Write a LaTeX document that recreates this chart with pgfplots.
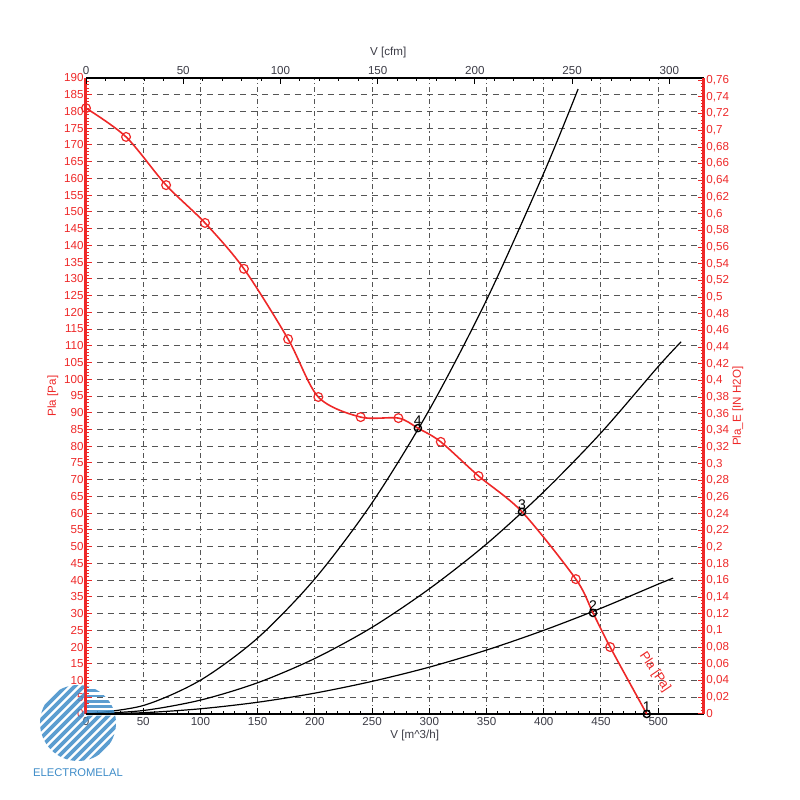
\documentclass[border=0pt]{standalone}
\usepackage{pgfplots}
\pgfplotsset{compat=1.18}
\usepackage{fontspec}
\setmainfont{Liberation Sans}
\definecolor{pred}{RGB}{238,40,40}
\definecolor{logoblue}{RGB}{62,140,200}
\definecolor{gridgray}{RGB}{85,85,85}
\definecolor{labgray}{RGB}{60,60,70}
\begin{document}
\begin{tikzpicture}[font=\fontsize{5.8}{7}\selectfont]
\pgfplotsset{
  common/.style={
    scale only axis, width=309pt, height=318pt,
    /pgf/number format/assume math mode=true,
    clip=false,
    major tick length=3pt, minor tick length=1.6pt,
  }
}
\begin{axis}[common,
  xmin=0, xmax=540, ymin=0, ymax=190,
  axis x line*=bottom, axis y line*=left,
  xtick={0,50,...,500}, minor x tick num=4,
  ytick={0,5,...,190}, minor y tick num=4,
  xmajorgrids, ymajorgrids,
  major x grid style={gridgray, line width=0.5pt, dash pattern=on 2.5pt off 1.5pt on 0.6pt off 1.5pt},
  major y grid style={gridgray, line width=0.5pt, dash pattern=on 3pt off 2.5pt},
  x axis line style={black, line width=1pt},
  y axis line style={pred, line width=1.5pt},
  x tick style={black, line width=0.5pt},
  y tick style={pred, line width=0.5pt},
  xticklabel style={labgray, inner sep=1.5pt},
  yticklabel style={pred, inner sep=1pt},
  xlabel={V [m\textasciicircum3/h]},
  xlabel style={at={(axis description cs:0.532,0)}, yshift=-10.5pt, anchor=center, labgray},
  ylabel={Pla [Pa]},
  ylabel style={at={(axis description cs:0,0.5)}, yshift=16.5pt, anchor=center, pred},
]
% system curves
\addplot[black, line width=0.6pt, smooth] coordinates {
 (0,0) (50,2.53) (100,10.1) (150,22.7) (200,40.4) (250,63.1) (300,90.9) (350,123.7) (400,161.6) (430,186.7)};
\addplot[black, line width=0.6pt, smooth] coordinates {
 (0,0) (50,1.04) (100,4.15) (150,9.34) (200,16.6) (250,25.9) (300,37.4) (350,50.8) (400,66.4) (450,84.0) (500,103.8) (520,111.2)};
\addplot[black, line width=0.6pt, smooth] coordinates {
 (0,0) (50,0.39) (100,1.56) (150,3.51) (200,6.24) (250,9.75) (300,14.0) (350,19.1) (400,25.0) (450,31.6) (500,38.8) (513,40.6)};
% fan curve
\addplot[pred, line width=0.8pt, smooth, tension=0.5, mark=o, mark size=2.2pt,
  mark options={solid, line width=0.6pt}, mark indices={1,2,3,4,5,6,7,8,9,11,12,14,16}] coordinates {
 (0,181) (35,172.4) (70,158) (104,146.7) (138,133) (176.6,112) (203,94.7) (240,88.7) (273,88.4)
 (290,85.4) (310,81.3) (343,71.1) (381,60.4) (428,40.3) (443,30.2) (458,20) (490,0)};
% operating points
\addplot[only marks, mark=o, mark size=1.8pt, black, mark options={line width=0.7pt},
  nodes near coords, point meta=explicit symbolic,
  every node near coord/.append style={font=\fontsize{7}{8}\selectfont, anchor=south, inner sep=0.8pt, black}]
 coordinates {(290,85.4)[4] (381,60.4)[3] (443,30.2)[2] (490,0)[1]};
\node[pred, rotate=-56, font=\fontsize{6.5}{7}\selectfont, inner sep=0pt] at (axis cs:497,12.5) {Pla [Pa]};
\end{axis}
\begin{axis}[common,
  xmin=0, xmax=317.8, ymin=0, ymax=0.76278,
  axis x line*=top, axis y line*=right,
  xtick={0,50,...,300}, minor x tick num=4,
  ytick distance=0.02, minor y tick num=4,
  x axis line style={black, line width=1pt},
  y axis line style={pred, line width=1.5pt},
  x tick style={black, line width=0.5pt},
  y tick style={pred, line width=0.5pt},
  xticklabel style={labgray, inner sep=1.5pt},
  yticklabel style={pred, inner sep=1pt, /pgf/number format/.cd, use comma, fixed, precision=2},
  xlabel={V [cfm]},
  xlabel style={at={(axis description cs:0.489,1)}, yshift=12.5pt, anchor=center, labgray},
  ylabel={Pla\_E [IN H2O]},
  ylabel style={at={(axis description cs:1,0.484)}, yshift=-17pt, anchor=center, pred},
]
\addplot[draw=none] coordinates {(0,0)};
\end{axis}
% logo
\begin{scope}[opacity=0.85]
\clip (-4pt,-4.5pt) circle (19pt);
\begin{scope}
\clip (-30pt,-30pt) -- (20pt,-30pt) -- (20pt,-0.8pt) -- (-0.8pt,-0.8pt) -- (-0.8pt,20pt) -- (-30pt,20pt) -- cycle;
\foreach \i in {-72,-67.5,...,14} {
  \draw[logoblue, line width=1.8pt] (\i pt,-30pt) -- ++(60pt,60pt);
}
\end{scope}
\foreach \j in {1.2,3.8,...,16} {
  \draw[logoblue, line width=1.4pt] (0.6pt,\j pt) -- (20pt,\j pt);
}
\end{scope}
\node[logoblue, font=\fontsize{5.6}{6}\selectfont] at (-4pt,-29.5pt) {ELECTROMELAL};
\pgfresetboundingbox
\path[use as bounding box] (-43pt,-43pt) rectangle (357pt,357pt);
\end{tikzpicture}
\end{document}
